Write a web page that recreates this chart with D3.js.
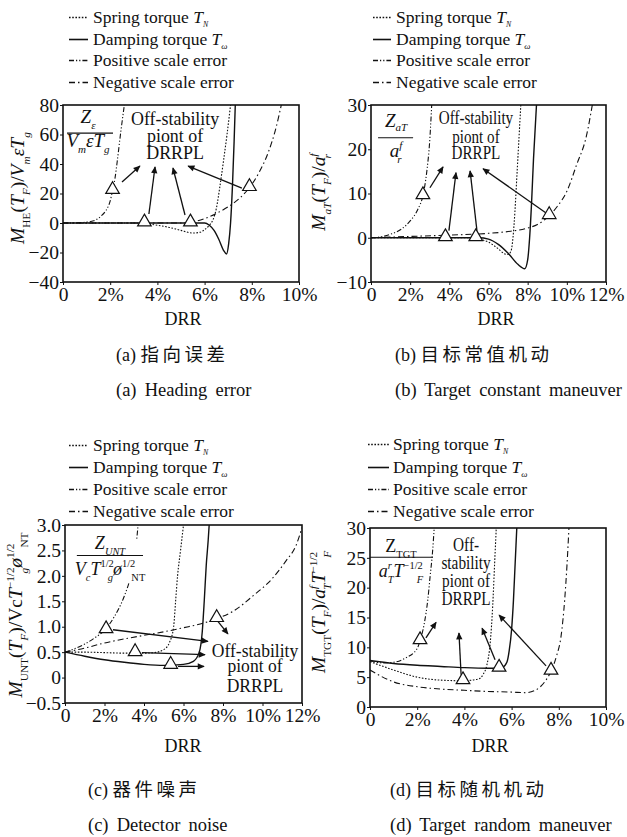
<!DOCTYPE html>
<html>
<head>
<meta charset="utf-8">
<script src="https://cdn.jsdelivr.net/npm/d3@7"></script>
<style>
body { margin: 0; background: #fff; }
svg { display: block; }
</style>
</head>
<body>
<svg id="fig" width="627" height="837"></svg>
<script>
// ---- data: [DRR %, value] ----
const headingSpring   = [[0,0],[3,0],[3.5,-0.5],[4,-1.5],[4.5,-3],[5,-5],[5.5,-6.8],[5.8,-6.3],[6,-4.5],[6.2,-1.5],[6.35,2],[6.5,10],[6.65,25],[6.8,42],[6.95,60],[7.1,80]];
const headingDamping  = [[0,0],[6,0],[6.2,-1.5],[6.4,-5],[6.6,-11],[6.8,-18.5],[6.93,-21],[7.02,-14],[7.1,0],[7.18,25],[7.25,55],[7.3,80]];
const headingPositive = [[0,0],[0.5,0.1],[1,0.6],[1.3,1.5],[1.6,4.5],[1.8,8],[2,15],[2.1,22],[2.2,30],[2.3,42],[2.45,62],[2.6,80]];
const headingNegative = [[0,0],[5,0],[5.4,0.5],[6,3],[6.5,6.5],[7,11],[7.5,17],[7.9,24],[8.3,34],[8.7,48],[9,63],[9.25,80]];
const headingMarkers  = [[2.1,22],[3.45,0],[5.4,0],[7.9,24]];
const headingArrows   = [[2.5,27.8,3.26,38.6],[3.64,6.1,3.9,38],[5.17,5.4,4.66,37.3],[7.58,23.7,5.3,38.6]];

const constSpring   = [[0,0],[5,0],[5.5,-0.3],[6,-1],[6.5,-2.5],[6.8,-3.6],[7,-3.8],[7.15,-3],[7.25,0],[7.35,6],[7.45,14],[7.55,22],[7.65,30]];
const constDamping  = [[0,0],[5.5,0],[6,-0.3],[6.5,-1.5],[7,-3.5],[7.5,-6],[7.85,-7],[8,-5],[8.1,0],[8.2,8],[8.3,18],[8.45,30]];
const constPositive = [[0,0],[0.5,0.2],[1,0.8],[1.5,1.8],[2,3.8],[2.4,6.5],[2.65,9.5],[2.85,15],[3,22],[3.1,30]];
const constNegative = [[0,0],[2,0.3],[4,0.6],[6,1],[7,1.4],[8,2.2],[8.5,3],[9.1,5],[9.5,7],[10,10.5],[10.5,16.5],[11,23],[11.3,30]];
const constMarkers  = [[2.65,9.5],[3.8,0],[5.35,0],[9.1,5]];
const constArrows   = [[3.01,11.3,3.68,16],[3.98,1.6,4.34,14.7],[5.41,1.6,5.06,15.1],[8.94,5.6,5.72,15.6]];

const noiseSpring   = [[0,0.5],[1,0.5],[2,0.49],[3,0.48],[4,0.48],[4.5,0.49],[5,0.55],[5.3,0.7],[5.5,1],[5.6,1.5],[5.7,2],[5.85,2.5],[6,3]];
const noiseDamping  = [[0,0.5],[1,0.42],[2,0.35],[3,0.3],[4,0.26],[5,0.24],[6,0.26],[6.5,0.32],[6.8,0.5],[6.95,0.9],[7.05,1.5],[7.15,2.2],[7.25,2.7],[7.3,3]];
const noisePositive = [[0,0.5],[0.5,0.57],[1,0.66],[1.5,0.78],[2,0.93],[2.5,1.2],[3,1.6],[3.3,1.95],[3.5,2.3],[3.6,2.6],[3.7,3]];
const noiseNegative = [[0,0.5],[1,0.58],[2,0.68],[3,0.76],[4,0.83],[5,0.9],[6,0.98],[7,1.07],[7.68,1.16],[8.5,1.3],[9.5,1.6],[10.5,1.95],[11.2,2.3],[11.7,2.6],[12,2.95]];
const noiseMarkers  = [[2.08,0.94],[3.55,0.49],[5.35,0.24],[7.68,1.16]];
const noiseArrows   = [[2.43,0.94,7.24,0.71],[3.9,0.49,7.09,0.45],[5.72,0.22,7.04,0.22],[7.75,1.1,8.25,0.86]];

const randomSpring   = [[0,7.6],[1,6.2],[2,5],[3,4.5],[3.94,4.4],[4.6,4.7],[4.8,5.5],[4.95,7],[5.1,11],[5.2,17],[5.28,24],[5.35,30]];
const randomDamping  = [[0,7.8],[1,7.3],[2,7],[3,6.8],[4,6.6],[5,6.5],[5.47,6.5],[5.6,6.6],[5.8,7.5],[5.9,9.5],[6,13],[6.08,18],[6.15,24],[6.22,30]];
const randomPositive = [[0,7.7],[0.5,7.4],[1,7.5],[1.5,8.2],[2,9.8],[2.12,11.1],[2.3,14],[2.45,18],[2.55,22],[2.65,26],[2.72,30]];
const randomNegative = [[0,6.2],[1,4.2],[2,3.4],[3,3],[4,2.8],[5,2.6],[6,2.5],[6.6,2.4],[7,2.8],[7.4,4.2],[7.67,6],[7.9,8.5],[8.1,12],[8.25,18],[8.35,24],[8.43,30]];
const randomMarkers  = [[2.12,11.1],[3.94,4.4],[5.47,6.5],[7.67,6]];
const randomArrows   = [[2.37,11.6,2.8,14.2],[3.86,5.4,3.77,12.4],[5.3,7.9,4.75,13.2],[7.46,6.9,5.47,15.4]];

const xTicks10 = [0,2,4,6,8,10];
const xTicks12 = [0,2,4,6,8,10,12];
const yTicksA = [-40,-20,0,20,40,60,80];
const yTicksB = [-10,0,10,20,30];
const yTicksC = [-0.5,0,0.5,1,1.5,2,2.5,3];
const yTicksD = [0,5,10,15,20,25,30];

const legendNames = ["Spring torque ", "Damping torque ", "Positive scale error", "Negative scale error"];
const noteLines3 = ["Off-stability", "piont of", "DRRPL"];
const noteLines4 = ["Off-", "stability", "piont of", "DRRPL"];

// ---- styles ----
const SERIF = '"Liberation Serif", "Times New Roman", serif';
const CJK = '"Noto Sans CJK SC", sans-serif';
const seriesKeys = ["spring", "damping", "positive", "negative"];
const seriesStyle = {
  spring:   { dash: "1.6,1.6", w: 1.1 },
  damping:  { dash: null, w: 1.4 },
  positive: { dash: "5,2,1.2,2,1.2,2", w: 1.1 },
  negative: { dash: "6,3,1.5,3", w: 1.1 }
};
const minus = v => (v < 0 ? "\u2212" + Math.abs(v) : String(v));
const fmtPct = d => (d === 0 ? "0" : d + "%");

const svg = d3.select("#fig").style("font-family", SERIF);
const defs = svg.append("defs");
defs.append("marker").attr("id", "arrow").attr("viewBox", "0 0 10 10")
  .attr("refX", 9).attr("refY", 5).attr("markerWidth", 8).attr("markerHeight", 7)
  .attr("markerUnits", "userSpaceOnUse").attr("orient", "auto")
  .append("path").attr("d", "M0,0.5 L10,5 L0,9.5 Z").attr("fill", "#111");

function addText(parent) {
  return parent.append("text").style("font-family", SERIF).attr("fill", "#111");
}

// segments: {t, it, sub, sup, dx, small, drop}
function rich(textSel, segs, size) {
  let off = 0;
  segs.forEach(s => {
    const target = s.sub ? size * (s.drop || 0.32) : s.sup ? -size * 0.42 : 0;
    const ts = textSel.append("tspan").text(s.t)
      .attr("dy", (target - off).toFixed(2))
      .attr("font-size", (s.sub || s.sup) ? size * (s.small || 0.58) : size)
      .attr("font-style", s.it ? "italic" : "normal");
    if (s.dx) ts.attr("dx", s.dx);
    off = target;
  });
  return textSel;
}

function drawLegend(lg) {
  const subs = [
    [{t:"T", it:1}, {t:"N", it:1, sub:1, small:0.45, drop:0.2}],
    [{t:"T", it:1}, {t:"\u03c9", it:1, sub:1, small:0.5, drop:0.2}],
    [], []
  ];
  seriesKeys.forEach((k, i) => {
    const yb = lg.base[i];
    svg.append("line").attr("x1", lg.lineX[0]).attr("x2", lg.lineX[1])
      .attr("y1", yb - 5.5).attr("y2", yb - 5.5)
      .attr("stroke", "#111").attr("stroke-width", seriesStyle[k].w + 0.2)
      .attr("stroke-dasharray", seriesStyle[k].dash);
    const t = addText(svg).attr("x", lg.textX).attr("y", yb).attr("font-size", 17.5);
    rich(t, [{t: legendNames[i]}].concat(subs[i]), 17.5);
  });
}

function drawPanel(p) {
  const b = p.box;
  const x = d3.scaleLinear().domain(p.xDomain).range([b.left, b.right]);
  const y = d3.scaleLinear().domain(p.yDomain).range([b.bottom, b.top]);
  const g = svg.append("g");

  const xa = g.append("g").attr("transform", `translate(0,${b.bottom})`)
    .call(d3.axisBottom(x).tickValues(p.xTicks).tickFormat(fmtPct).tickSize(3).tickPadding(2));
  const ya = g.append("g").attr("transform", `translate(${b.left},0)`)
    .call(d3.axisLeft(y).tickValues(p.yTicks).tickFormat(p.yFormat || minus).tickSize(3).tickPadding(1));
  [xa, ya].forEach(a => {
    a.attr("font-family", null).attr("font-size", 19.5);
    a.selectAll("text").style("font-family", SERIF).attr("fill", "#111");
    a.select(".domain").remove();
    a.selectAll("line").attr("stroke", "#111");
  });

  defs.append("clipPath").attr("id", "clip-" + p.id).append("rect")
    .attr("x", b.left).attr("y", b.top).attr("width", b.right - b.left).attr("height", b.bottom - b.top);

  // fraction annotation
  const fg = g.append("g");
  const f = p.frac;
  const num = addText(fg).attr("x", x(f.cx)).attr("y", y(f.numY)).attr("text-anchor", "middle");
  rich(num, f.num, f.size);
  const den = addText(fg).attr("x", x(f.cx)).attr("y", y(f.denY)).attr("text-anchor", "middle");
  rich(den, f.den, f.size);
  if (p.fracBg) {
    const bb = fg.node().getBBox();
    fg.insert("rect", ":first-child").attr("x", bb.x).attr("y", bb.y + 6)
      .attr("width", bb.width).attr("height", bb.height - 6).attr("fill", "#fff");
  }

  const lineGen = d3.line().x(d => x(d[0])).y(d => y(d[1])).curve(d3.curveMonotoneX);
  const curves = g.append("g").attr("clip-path", `url(#clip-${p.id})`);
  seriesKeys.forEach(k => {
    curves.append("path").datum(p.series[k]).attr("d", lineGen)
      .attr("fill", "none").attr("stroke", "#111")
      .attr("stroke-width", seriesStyle[k].w).attr("stroke-dasharray", seriesStyle[k].dash);
  });

  fg.raise();
  fg.append("line").attr("x1", x(f.x0)).attr("x2", x(f.x1)).attr("y1", y(f.lineY)).attr("y2", y(f.lineY))
    .attr("stroke", "#111").attr("stroke-width", 1.2);

  // off-stability note
  const n = p.note;
  n.lines.forEach((s, i) => {
    addText(g).attr("transform", `translate(${x(n.x)},${y(n.ys[i])}) scale(${n.sx},1)`)
      .attr("text-anchor", "middle").attr("font-size", n.size).text(s);
  });

  // arrows
  g.selectAll(".arr").data(p.arrows).join("line")
    .attr("x1", d => x(d[0])).attr("y1", d => y(d[1]))
    .attr("x2", d => x(d[2])).attr("y2", d => y(d[3]))
    .attr("stroke", "#111").attr("stroke-width", 1.3).attr("marker-end", "url(#arrow)");

  // triangles
  g.selectAll(".tri").data(p.markers).join("path")
    .attr("d", d3.symbol(d3.symbolTriangle, 80))
    .attr("transform", d => `translate(${x(d[0])},${y(d[1]) - 1})`)
    .attr("fill", "#fff").attr("stroke", "#111").attr("stroke-width", 1.2);

  g.append("rect").attr("x", b.left).attr("y", b.top)
    .attr("width", b.right - b.left).attr("height", b.bottom - b.top)
    .attr("fill", "none").attr("stroke", "#111").attr("stroke-width", 1.6);

  // y label
  const yl = addText(g).attr("transform", `translate(${p.yLabel.x},${p.yLabel.y}) rotate(-90)`)
    .attr("text-anchor", "middle");
  rich(yl, p.yLabel.segs, 19.5);

  addText(g).attr("x", p.drr.x).attr("y", p.drr.y).attr("text-anchor", "middle")
    .attr("font-size", 18).text("DRR");

  const cz = addText(g).attr("x", p.caps.x).attr("y", p.caps.zhY).attr("font-size", 18);
  cz.append("tspan").text(p.caps.tag + " ");
  cz.append("tspan").style("font-family", CJK).attr("font-size", 18.5).attr("letter-spacing", 3.5).text(p.caps.zh);
  addText(g).attr("x", p.caps.x).attr("y", p.caps.enY).attr("font-size", 18.5)
    .attr("word-spacing", 3.5).text(p.caps.tag + " " + p.caps.en);

  drawLegend(p.legend);
}

const it = (t) => ({ t, it: 1 });
const sb = (t, o) => Object.assign({ t, sub: 1 }, o || {});
const sp = (t, o) => Object.assign({ t, sup: 1 }, o || {});
const txt = (t) => ({ t });

const panels = [
  {
    id: "a", box: { left: 63, right: 299, top: 105, bottom: 282 },
    xDomain: [0, 10], yDomain: [-40, 80], xTicks: xTicks10, yTicks: yTicksA,
    series: { spring: headingSpring, damping: headingDamping, positive: headingPositive, negative: headingNegative },
    markers: headingMarkers, arrows: headingArrows,
    note: { x: 4.75, ys: [66.4, 54.9, 43.4], lines: noteLines3, size: 18.5, sx: 0.97 },
    frac: { cx: 1.06, numY: 67.8, denY: 51.5, lineY: 61, x0: 0.17, x1: 2.12, size: 19,
      num: [it("Z"), sb("\u03b5", { it: 1 })],
      den: [it("V"), sb("m", { it: 1 }), it("\u03b5"), it("T"), sb("g", { it: 1 })] },
    yLabel: { x: 24, y: 188, segs: [it("M"), sb("HE"), txt("("), it("T"), sb("F", { it: 1 }), txt(")/"), it("V"), sb("m", { it: 1 }), it("\u03b5"), it("T"), sb("g", { it: 1 })] },
    legend: { lineX: [69, 88], textX: 93, base: [23, 45, 66, 88] },
    drr: { x: 183, y: 325 },
    caps: { x: 116, zhY: 361, enY: 396, tag: "(a)", zh: "指向误差", en: "Heading error" }
  },
  {
    id: "b", box: { left: 371, right: 606, top: 105, bottom: 282 },
    xDomain: [0, 12], yDomain: [-10, 30], xTicks: xTicks12, yTicks: yTicksB,
    series: { spring: constSpring, damping: constDamping, positive: constPositive, negative: constNegative },
    markers: constMarkers, arrows: constArrows,
    note: { x: 5.36, ys: [25.8, 21.5, 17.9], lines: noteLines3, size: 18, sx: 0.84 },
    frac: { cx: 1.28, numY: 25.1, denY: 18.3, lineY: 22.6, x0: 0.36, x1: 2.15, size: 19,
      num: [it("Z"), sb("aT", { it: 1, drop: 0.22 })],
      den: [it("a"), sp("f", { it: 1 }), sb("r", { it: 1, dx: -5 })] },
    yLabel: { x: 325, y: 192, segs: [it("M"), sb("aT", { it: 1 }), txt("("), it("T"), sb("F", { it: 1 }), txt(")/"), it("a"), sp("f", { it: 1 }), sb("r", { it: 1, dx: -5 })] },
    legend: { lineX: [373, 391], textX: 396, base: [23, 45, 66, 88] },
    drr: { x: 496, y: 325 },
    caps: { x: 395, zhY: 361, enY: 396, tag: "(b)", zh: "目标常值机动", en: "Target constant maneuver" }
  },
  {
    id: "c", box: { left: 65, right: 302, top: 525, bottom: 703 },
    xDomain: [0, 12], yDomain: [-0.5, 3], xTicks: xTicks12, yTicks: yTicksC,
    yFormat: d => (d === 0 ? "0" : (d < 0 ? "\u2212" : "") + Math.abs(d).toFixed(1)),
    series: { spring: noiseSpring, damping: noiseDamping, positive: noisePositive, negative: noiseNegative },
    markers: noiseMarkers, arrows: noiseArrows, fracBg: true,
    note: { x: 9.62, ys: [0.41, 0.1, -0.29], lines: noteLines3, size: 18.5, sx: 0.95 },
    frac: { cx: 2.28, numY: 2.53, denY: 2.02, lineY: 2.4, x0: 0.6, x1: 3.95, size: 18,
      num: [it("Z"), sb("UNT", { it: 1 })],
      den: [it("V"), sb("c", { it: 1 }), it("T"), sp("1/2"), sb("g", { it: 1, dx: -6 }), it("\u00f8"), sp("1/2"), sb("NT", { dx: -4 })] },
    yLabel: { x: 22, y: 615, segs: [it("M"), sb("UNT"), txt("("), it("T"), sb("F", { it: 1 }), txt(")/Vc"), it("T"), sp("\u22121/2"), sb("g", { it: 1, dx: -6 }), it("\u00f8"), sp("1/2"), sb("NT", { dx: -4 })] },
    legend: { lineX: [69, 88], textX: 93, base: [451, 473, 495, 517] },
    drr: { x: 183, y: 752 },
    caps: { x: 88, zhY: 796, enY: 831, tag: "(c)", zh: "器件噪声", en: "Detector noise" }
  },
  {
    id: "d", box: { left: 370, right: 606, top: 528, bottom: 707 },
    xDomain: [0, 10], yDomain: [0, 30], xTicks: xTicks10, yTicks: yTicksD,
    series: { spring: randomSpring, damping: randomDamping, positive: randomPositive, negative: randomNegative },
    markers: randomMarkers, arrows: randomArrows,
    note: { x: 4.07, ys: [26.1, 23.1, 20.1, 17.1], lines: noteLines4, size: 18, sx: 0.85 },
    frac: { cx: 1.31, numY: 26, denY: 21.8, lineY: 25.1, x0: 0, x1: 2.67, size: 18,
      num: [txt("Z"), sb("TGT")],
      den: [it("a"), sp("r", { it: 1 }), sb("T", { it: 1, dx: -4 }), it("T"), sp("\u22121/2"), sb("F", { it: 1, dx: -6 })] },
    yLabel: { x: 325, y: 612, segs: [it("M"), sb("TGT"), txt("("), it("T"), sb("F", { it: 1 }), txt(")/"), it("a"), sp("f", { it: 1 }), sb("T", { it: 1, dx: -4 }), it("T"), sp("\u22121/2"), sb("F", { it: 1, dx: -6 })] },
    legend: { lineX: [368, 389], textX: 393, base: [450, 473, 495, 517] },
    drr: { x: 490, y: 752 },
    caps: { x: 390, zhY: 796, enY: 831, tag: "(d)", zh: "目标随机机动", en: "Target random maneuver" }
  }
];

panels.forEach(drawPanel);
</script>
</body>
</html>
